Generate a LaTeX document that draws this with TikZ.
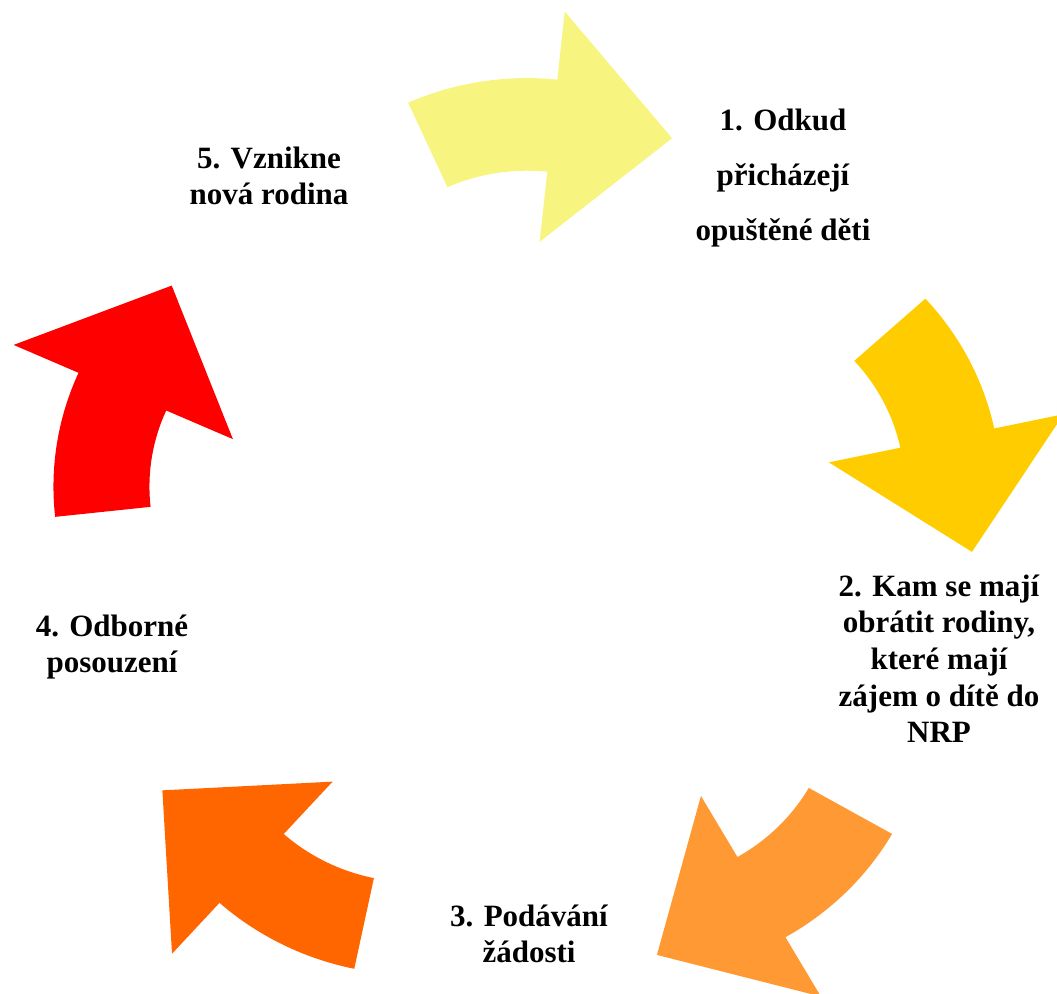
\documentclass[tikz,border=0pt]{standalone}
\usepackage{fontspec}
\setmainfont{Liberation Serif}
\usepackage{tikz}

\definecolor{paleyellow}{HTML}{F7F57F}
\definecolor{gold}{HTML}{FFCC00}
\definecolor{lightorange}{HTML}{FF9933}
\definecolor{deeporange}{HTML}{FF6600}
\definecolor{brightred}{HTML}{FF0000}

\begin{document}
\begin{tikzpicture}[x=0.75pt, y=0.75pt,
        cycletext/.style={align=center, anchor=base, inner sep=0pt, font=\fontsize{23.25}{27.5}\selectfont\bfseries}]
    \useasboundingbox (0, 0) rectangle (1057, 994);

    % the five curved arrows
    \begin{scope}[shift={(527, 449.8)}, yscale=0.965]
        \fill [paleyellow, shift={(90:193)}] (114.2:290) arc [start angle=114.2, end angle=84, radius=290] -- (84:361) -- (57.5:270) -- (84:121) -- (84:194) arc [start angle=84, end angle=114.2, radius=194] -- cycle;
        \fill [gold, shift={(18:193)}] (42.2:290) arc [start angle=42.2, end angle=12, radius=290] -- (12:361) -- (-14.5:270) -- (12:121) -- (12:194) arc [start angle=12, end angle=42.2, radius=194] -- cycle;
        \fill [lightorange, shift={(-54:193)}] (-29.8:290) arc [start angle=-29.8, end angle=-60, radius=290] -- (-60:361) -- (-86.5:270) -- (-60:121) -- (-60:194) arc [start angle=-60, end angle=-29.8, radius=194] -- cycle;
        \fill [deeporange, shift={(-126:193)}] (-101.8:290) arc [start angle=-101.8, end angle=-132, radius=290] -- (-132:361) -- (-158.5:270) -- (-132:121) -- (-132:194) arc [start angle=-132, end angle=-101.8, radius=194] -- cycle;
        \fill [brightred, shift={(162:193)}] (186.2:290) arc [start angle=186.2, end angle=156, radius=290] -- (156:361) -- (129.5:270) -- (156:121) -- (156:194) arc [start angle=156, end angle=186.2, radius=194] -- cycle;
    \end{scope}

    % texts (placed at the baseline of their last line)
    \node [cycletext, font=\fontsize{23.25}{41.25}\selectfont\bfseries] (odkud) at (783, 753) {1. Odkud\\ přicházejí\\ opuštěné děti};
    \node [cycletext] (kam) at (939, 251.3) {2. Kam se mají\\ obrátit rodiny,\\ které mají\\ zájem o dítě do\\ NRP};
    \node [cycletext] (podavani) at (529, 31.3) {3. Podávání\\ žádosti};
    \node [cycletext] (posouzeni) at (112, 321.3) {4. Odborné\\ posouzení};
    \node [cycletext] (rodina) at (269, 789) {5. Vznikne\\ nová rodina};
\end{tikzpicture}
\end{document}
